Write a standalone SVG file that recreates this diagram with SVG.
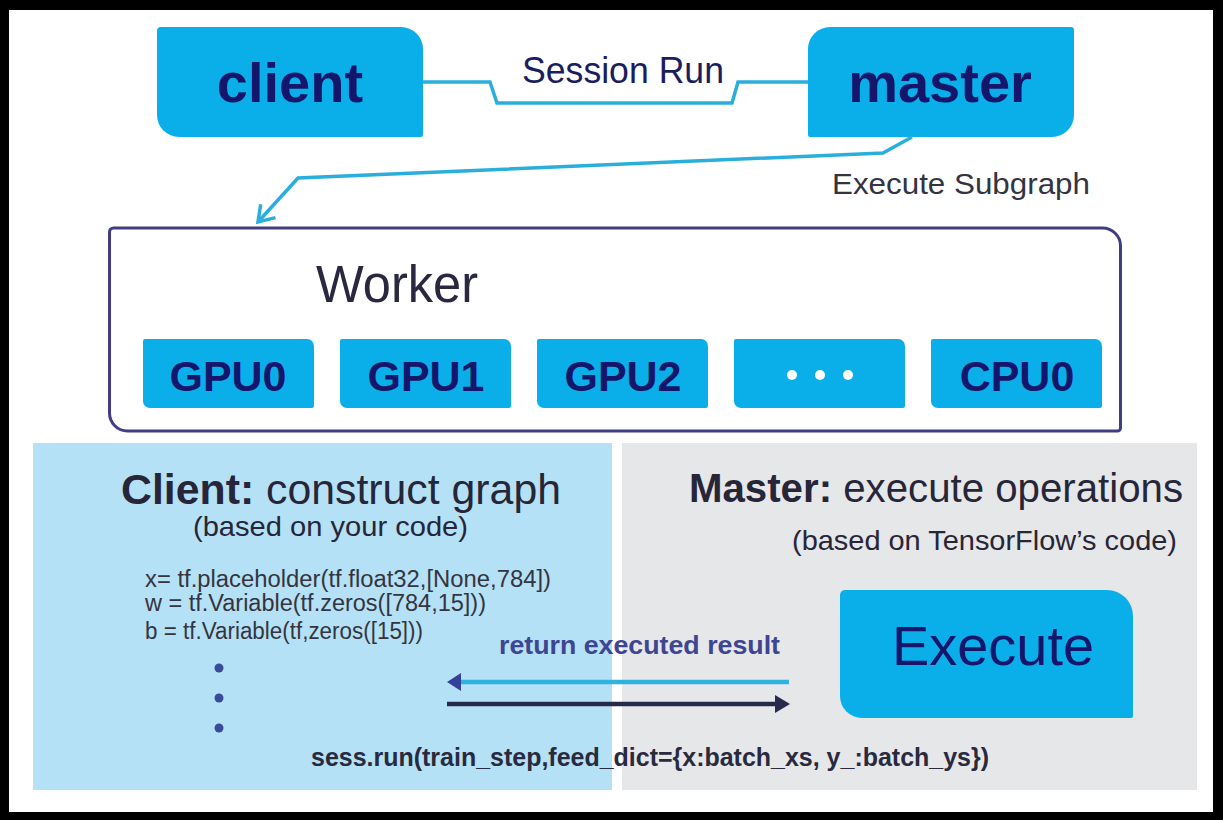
<svg xmlns="http://www.w3.org/2000/svg" xmlns:xlink="http://www.w3.org/1999/xlink" width="1223" height="820" viewBox="0 0 1223 820">
  <style>
    text { font-family: "Liberation Sans", Arial, sans-serif; }
    .box { fill: #0aaee9; }
    .navy { fill: #14166b; }
    .bold { font-weight: bold; }
    .dev { font-size: 43px; font-weight: bold; fill: #14166b; text-anchor: middle; }
    .dark { fill: #2a2a3e; }
    .code { font-size: 23.5px; fill: #34343f; }
    .link { fill: none; stroke: #2aaedc; stroke-width: 3.5; stroke-linejoin: miter; }
  </style>
  <defs>
    <path id="devshape" d="M2,0 H164 A7,7 0 0 1 171,7 V67 A2,2 0 0 1 169,69 H7 A7,7 0 0 1 0,62 V2 A2,2 0 0 1 2,0 Z"/>
    <marker id="openV" markerUnits="userSpaceOnUse" viewBox="-20 -12 24 24" refX="0" refY="0" markerWidth="24" markerHeight="24" orient="auto">
      <path d="M-15,-10 L0,0 L-15,10" fill="none" stroke="#2aaedc" stroke-width="3.5"/>
    </marker>
    <marker id="headBlue" markerUnits="userSpaceOnUse" viewBox="-2 -10 18 20" refX="2" refY="0" markerWidth="18" markerHeight="20" orient="auto">
      <path d="M0,-9 L14,0 L0,9 Z" fill="#34419a"/>
    </marker>
    <marker id="headDark" markerUnits="userSpaceOnUse" viewBox="-2 -10 18 20" refX="2" refY="0" markerWidth="18" markerHeight="20" orient="auto">
      <path d="M0,-9 L15,0 L0,9 Z" fill="#262b4c"/>
    </marker>
  </defs>

  <!-- frame -->
  <rect x="0" y="0" width="1223" height="820" fill="#000"/>
  <rect x="9" y="10" width="1204" height="802" fill="#fff"/>

  <!-- bottom panels -->
  <g id="client-panel">
    <rect x="33" y="443" width="579" height="347" fill="#b5e1f6"/>
    <text x="121" y="504" font-size="42" fill="#262638" textLength="440" lengthAdjust="spacingAndGlyphs"><tspan font-weight="bold">Client:</tspan> construct graph</text>
    <text x="193" y="536" font-size="28.5" fill="#262638" textLength="275" lengthAdjust="spacingAndGlyphs">(based on your code)</text>
    <text class="code" x="145" y="587" textLength="406" lengthAdjust="spacingAndGlyphs">x= tf.placeholder(tf.float32,[None,784])</text>
    <text class="code" x="145" y="611" textLength="341" lengthAdjust="spacingAndGlyphs">w = tf.Variable(tf.zeros([784,15]))</text>
    <text class="code" x="145" y="639" textLength="278" lengthAdjust="spacingAndGlyphs">b = tf.Variable(tf,zeros([15]))</text>
    <circle cx="219" cy="668" r="4.5" fill="#3a4b9a"/>
    <circle cx="219" cy="698" r="4.5" fill="#3a4b9a"/>
    <circle cx="219" cy="728" r="4.5" fill="#3a4b9a"/>
  </g>
  <g id="master-panel">
    <rect x="622" y="443" width="575" height="347" fill="#e6e7e9"/>
    <text x="689" y="502" font-size="40.5" fill="#262638" textLength="494" lengthAdjust="spacingAndGlyphs"><tspan font-weight="bold">Master:</tspan> execute operations</text>
    <text x="792" y="550" font-size="28.5" fill="#262638" textLength="385" lengthAdjust="spacingAndGlyphs">(based on TensorFlow’s code)</text>
  </g>
  <g id="execute">
    <path class="box" d="M845,590 H1107 A26,26 0 0 1 1133,616 V716 A2,2 0 0 1 1131,718 H862 A22,22 0 0 1 840,696 V595 A5,5 0 0 1 845,590 Z"/>
    <text class="navy" x="993" y="665" font-size="56" text-anchor="middle" textLength="202" lengthAdjust="spacingAndGlyphs">Execute</text>
  </g>

  <!-- top nodes -->
  <g id="client">
    <path class="box" d="M161,27 H401 A22,22 0 0 1 423,49 V135 A2,2 0 0 1 421,137 H179 A22,22 0 0 1 157,115 V31 A4,4 0 0 1 161,27 Z"/>
    <text class="navy bold" x="290" y="102" font-size="56" text-anchor="middle">client</text>
  </g>
  <g id="master">
    <path class="box" d="M830,27 H1071 A3,3 0 0 1 1074,30 V115 A22,22 0 0 1 1052,137 H810 A2,2 0 0 1 808,135 V49 A22,22 0 0 1 830,27 Z"/>
    <text class="navy bold" x="940" y="102" font-size="56" text-anchor="middle">master</text>
  </g>

  <g id="worker">
    <path d="M113.5,228 H1102.5 A18,18 0 0 1 1120.5,246 V428 A3,3 0 0 1 1117.5,431 H127.5 A18,18 0 0 1 109.5,413 V232 A4,4 0 0 1 113.5,228 Z" fill="#fff" stroke="#403d86" stroke-width="3"/>
    <text x="316" y="302" font-size="51" fill="#2a2840" textLength="162" lengthAdjust="spacingAndGlyphs">Worker</text>
  </g>
  <g id="gpu0">
    <use href="#devshape" xlink:href="#devshape" x="143" y="339" class="box"/>
    <text class="dev" x="228" y="391">GPU0</text>
  </g>
  <g id="gpu1">
    <use href="#devshape" xlink:href="#devshape" x="340" y="339" class="box"/>
    <text class="dev" x="426" y="391">GPU1</text>
  </g>
  <g id="gpu2">
    <use href="#devshape" xlink:href="#devshape" x="537" y="339" class="box"/>
    <text class="dev" x="623" y="391">GPU2</text>
  </g>
  <g id="more">
    <use href="#devshape" xlink:href="#devshape" x="734" y="339" class="box"/>
    <circle cx="792" cy="375" r="5" fill="#fff"/>
    <circle cx="820" cy="375" r="5" fill="#fff"/>
    <circle cx="848" cy="375" r="5" fill="#fff"/>
  </g>
  <g id="cpu0">
    <use href="#devshape" xlink:href="#devshape" x="931" y="339" class="box"/>
    <text class="dev" x="1017" y="391">CPU0</text>
  </g>

  <!-- connectors -->
  <g id="connectors">
    <path class="link" d="M423,82 H490 L497,103 H732 L738,82 H808"/>
    <text x="522" y="83" font-size="36" fill="#1b1d5e" textLength="202" lengthAdjust="spacingAndGlyphs">Session Run</text>
    <path class="link" d="M912,137 L883,153 L298,178 L258,222" marker-end="url(#openV)"/>
    <text x="832" y="194" font-size="29" fill="#333344" textLength="258" lengthAdjust="spacingAndGlyphs">Execute Subgraph</text>
    <line x1="789" y1="682" x2="459" y2="682" stroke="#2eb2e0" stroke-width="4.5" marker-end="url(#headBlue)"/>
    <text x="499" y="654" font-size="26" font-weight="bold" fill="#3e4592" textLength="281" lengthAdjust="spacingAndGlyphs">return executed result</text>
    <line x1="447" y1="704" x2="777" y2="704" stroke="#262b4c" stroke-width="4.5" marker-end="url(#headDark)"/>
    <text x="311" y="766" font-size="25.5" font-weight="bold" fill="#2a2a3e" textLength="678" lengthAdjust="spacingAndGlyphs">sess.run(train_step,feed_dict={x:batch_xs, y_:batch_ys})</text>
  </g>
</svg>
